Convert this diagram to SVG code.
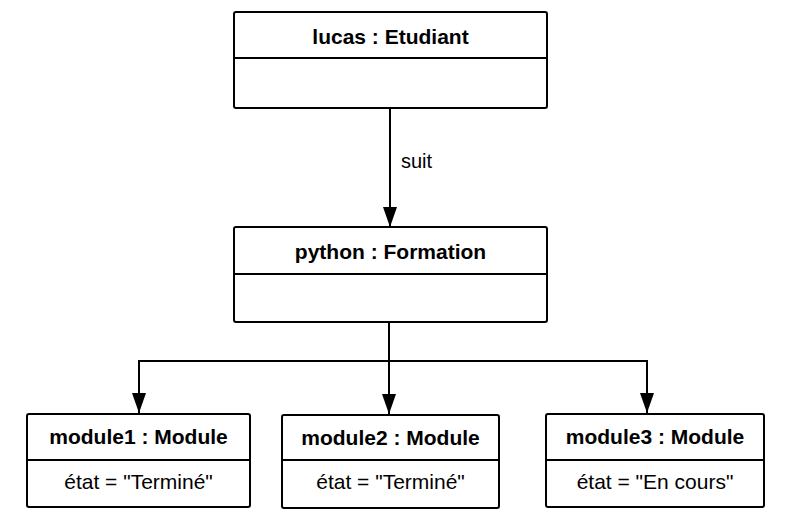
<svg xmlns="http://www.w3.org/2000/svg" width="800" height="520" viewBox="0 0 800 520">
  <style>
    .box { fill: #ffffff; stroke: #000000; stroke-width: 2; }
    .div { stroke: #000000; stroke-width: 2; }
    .title { font-family: "Liberation Sans", Arial, sans-serif; font-size: 21px; font-weight: bold; text-anchor: middle; fill: #000; }
    .attr { font-family: "Liberation Sans", Arial, sans-serif; font-size: 21px; text-anchor: middle; fill: #000; }
    .lbl { font-family: "Liberation Sans", Arial, sans-serif; font-size: 20px; fill: #000; }
    .conn { fill: none; stroke: #000000; stroke-width: 2; }
  </style>
  <defs>
    <marker id="arrow" markerUnits="userSpaceOnUse" markerWidth="22" markerHeight="16" refX="20" refY="7" orient="auto">
      <path d="M0,0 L20,7 L0,14 z" fill="#000"/>
    </marker>
  </defs>
  <rect width="800" height="520" fill="#ffffff"/>

  <g id="connectors">
    <line class="conn" x1="390" y1="108" x2="390" y2="227" marker-end="url(#arrow)"/>
    <text class="lbl" x="401" y="168">suit</text>
    <line class="conn" x1="389" y1="322" x2="389" y2="414" marker-end="url(#arrow)"/>
    <polyline class="conn" points="389,361 139,361 139,413" marker-end="url(#arrow)"/>
    <polyline class="conn" points="389,361 647,361 647,413" marker-end="url(#arrow)"/>
  </g>

  <g id="lucas">
    <rect class="box" x="234" y="12" width="313" height="96" rx="2"/>
    <line class="div" x1="234" y1="58" x2="547" y2="58"/>
    <text class="title" x="390.5" y="44">lucas : Etudiant</text>
  </g>

  <g id="python">
    <rect class="box" x="234" y="227" width="313" height="95" rx="2"/>
    <line class="div" x1="234" y1="274" x2="547" y2="274"/>
    <text class="title" x="390.5" y="259">python : Formation</text>
  </g>

  <g id="module1">
    <rect class="box" x="27" y="414" width="223" height="93" rx="2"/>
    <line class="div" x1="27" y1="460" x2="250" y2="460"/>
    <text class="title" x="138.5" y="444">module1 : Module</text>
    <text class="attr" x="138.5" y="489">état = "Terminé"</text>
  </g>

  <g id="module2">
    <rect class="box" x="282" y="415" width="217" height="93" rx="2"/>
    <line class="div" x1="282" y1="460" x2="499" y2="460"/>
    <text class="title" x="390.5" y="445">module2 : Module</text>
    <text class="attr" x="390.5" y="489">état = "Terminé"</text>
  </g>

  <g id="module3">
    <rect class="box" x="546" y="414" width="218" height="93" rx="2"/>
    <line class="div" x1="546" y1="460" x2="764" y2="460"/>
    <text class="title" x="655" y="444">module3 : Module</text>
    <text class="attr" x="655" y="489">état = "En cours"</text>
  </g>
</svg>
